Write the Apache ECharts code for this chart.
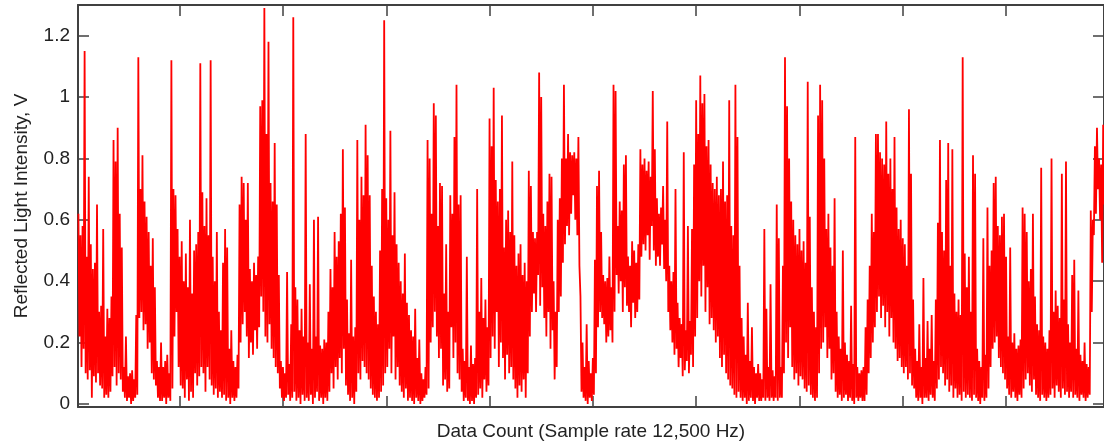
<!DOCTYPE html>
<html>
<head>
<meta charset="utf-8">
<script src="https://cdn.jsdelivr.net/npm/echarts@6/dist/echarts.min.js"></script>
<style>
  html, body { margin: 0; padding: 0; background: #fff; }
  #chart { width: 1104px; height: 446px; }
</style>
</head>
<body>
<div id="chart"></div>
<script>
// upper envelope (local peaks) and lower envelope (local troughs), read every ~20 samples
var peaks = [
  0.62, 0.55, 0.58, 1.15, 0.48, 0.74, 0.52, 0.44, 0.46, 0.65,
  0.30, 0.32, 0.57, 0.22, 0.31, 0.28, 0.35, 0.86, 0.79, 0.90,
  0.62, 0.51, 0.12, 0.22, 0.09, 0.10, 0.11, 0.08, 0.29, 1.13,
  0.70, 0.81, 0.66, 0.61, 0.56, 0.45, 0.54, 0.38, 0.14, 0.12,
  0.20, 0.12, 0.14, 0.16, 0.10, 1.12, 0.70, 0.68, 0.57, 0.48,
  0.53, 0.40, 0.49, 0.38, 0.60, 0.36, 0.50, 0.52, 0.56, 1.11,
  0.69, 0.58, 0.67, 0.55, 1.12, 0.48, 0.40, 0.56, 0.30, 0.24,
  0.46, 0.57, 0.51, 0.18, 0.24, 0.14, 0.12, 0.16, 0.65, 0.74,
  0.72, 0.60, 0.72, 0.44, 0.40, 0.46, 0.42, 0.48, 0.97, 0.99,
  1.29, 0.88, 1.18, 0.72, 0.66, 0.85, 0.65, 0.42, 0.14, 0.12,
  0.10, 0.43, 0.13, 0.26, 1.26, 0.38, 0.34, 0.24, 0.31, 0.22,
  0.88, 0.20, 0.39, 0.18, 0.60, 0.22, 0.61, 0.19, 0.18, 0.21,
  0.20, 0.30, 0.44, 0.38, 0.56, 0.48, 0.53, 0.62, 0.83, 0.64,
  0.34, 0.23, 0.47, 0.22, 0.25, 0.86, 0.60, 0.74, 0.68, 0.91,
  0.81, 0.68, 0.45, 0.35, 0.30, 0.26, 0.50, 0.70, 1.25, 0.67,
  0.60, 0.89, 0.55, 0.69, 0.52, 0.46, 0.40, 0.36, 0.49, 0.33,
  0.29, 0.24, 0.22, 0.31, 0.15, 0.21, 0.10, 0.08, 0.12, 0.86,
  0.80, 0.62, 0.98, 0.94, 0.58, 0.72, 0.71, 0.36, 0.52, 0.30,
  0.68, 0.62, 0.87, 1.04, 0.65, 0.68, 0.18, 0.14, 0.48, 0.12,
  0.19, 0.13, 0.15, 0.70, 0.30, 0.41, 0.28, 0.34, 0.25, 0.93,
  0.84, 1.03, 0.73, 0.66, 0.70, 0.94, 0.51, 0.60, 0.63, 0.56,
  0.79, 0.55, 0.45, 0.49, 0.52, 0.42, 0.46, 0.40, 0.76, 0.71,
  0.56, 0.54, 0.56, 1.08, 1.00, 0.62, 0.58, 0.66, 0.75, 0.74,
  0.40, 0.30, 0.60, 0.67, 0.80, 1.04, 0.80, 0.88, 0.82, 0.81,
  0.82, 0.80, 0.87, 0.35, 0.20, 0.12, 0.26, 0.14, 0.10, 0.15,
  0.47, 0.71, 0.76, 0.56, 0.42, 0.40, 0.41, 0.48, 0.38, 1.04,
  1.02, 0.58, 0.66, 0.63, 0.78, 0.81, 0.48, 0.45, 0.53, 0.50,
  0.46, 0.52, 0.83, 0.78, 0.80, 0.76, 0.79, 0.74, 1.02, 0.83,
  0.67, 0.62, 0.64, 0.71, 0.60, 0.92, 0.45, 0.40, 0.43, 0.70,
  0.33, 0.28, 0.26, 0.82, 0.24, 0.58, 0.27, 0.57, 0.78, 0.99,
  0.88, 1.07, 0.98, 1.01, 0.84, 0.86, 0.78, 0.72, 0.70, 0.74,
  0.68, 0.70, 0.79, 0.66, 0.68, 0.99, 0.58, 0.55, 1.04, 0.87,
  0.45, 0.28, 0.22, 0.16, 0.33, 0.14, 0.25, 0.12, 0.10, 0.13,
  0.10, 0.08, 0.57, 0.31, 0.12, 0.39, 0.11, 0.09, 0.65, 0.54,
  0.12, 0.45, 1.13, 0.97, 0.80, 0.66, 0.60, 0.55, 0.52, 0.57,
  0.50, 0.53, 0.46, 1.05, 0.61, 0.38, 0.30, 0.25, 0.94, 1.04,
  0.99, 0.80, 0.57, 0.62, 0.51, 0.45, 0.67, 0.30, 0.22, 0.18,
  0.50, 0.20, 0.16, 0.14, 0.32, 0.13, 0.87, 0.12, 0.10, 0.11,
  0.12, 0.25, 0.34, 0.45, 0.62, 0.56, 0.88, 0.88, 0.82, 0.80,
  0.78, 0.92, 0.75, 0.80, 0.70, 0.87, 0.64, 0.57, 0.60, 0.54,
  0.52, 0.45, 0.96, 0.75, 0.34, 0.18, 0.14, 0.26, 0.12, 0.41,
  0.15, 0.27, 0.18, 0.29, 0.14, 0.34, 0.59, 0.86, 0.56, 0.50,
  0.73, 0.85, 0.45, 0.83, 0.36, 0.30, 0.34, 0.29, 1.13, 0.49,
  0.38, 0.48, 0.30, 0.81, 0.75, 0.18, 0.14, 0.12, 0.54, 0.16,
  0.64, 0.45, 0.50, 0.72, 0.74, 0.58, 0.55, 0.61, 0.62, 0.48,
  0.22, 0.51, 0.20, 0.23, 0.18, 0.19, 0.21, 0.64, 0.62, 0.56,
  0.40, 0.44, 0.62, 0.35, 0.26, 0.24, 0.77, 0.22, 0.20, 0.18,
  0.24, 0.80, 0.30, 0.37, 0.32, 0.28, 0.75, 0.34, 0.79, 0.26,
  0.20, 0.42, 0.47, 0.18, 0.37, 0.16, 0.14, 0.20, 0.13, 0.12,
  0.63, 0.60, 0.84, 0.90, 0.80, 0.78, 0.91
];
var troughs = [
  0.22, 0.12, 0.18, 0.10, 0.08, 0.11, 0.02, 0.09, 0.07, 0.10,
  0.06, 0.05, 0.02, 0.03, 0.02, 0.04, 0.09, 0.12, 0.06, 0.10,
  0.08, 0.04, 0.02, 0.01, 0.02, 0.00, 0.01, 0.02, 0.03, 0.28,
  0.30, 0.24, 0.26, 0.18, 0.20, 0.10, 0.08, 0.06, 0.02, 0.01,
  0.01, 0.02, 0.00, 0.02, 0.01, 0.05, 0.22, 0.30, 0.12, 0.06,
  0.05, 0.02, 0.08, 0.01, 0.04, 0.02, 0.10, 0.06, 0.09, 0.12,
  0.10, 0.04, 0.12, 0.08, 0.06, 0.03, 0.05, 0.02, 0.04, 0.02,
  0.03, 0.01, 0.02, 0.00, 0.02, 0.01, 0.02, 0.05, 0.20, 0.26,
  0.30, 0.22, 0.15, 0.20, 0.16, 0.24, 0.18, 0.25, 0.35, 0.30,
  0.22, 0.20, 0.26, 0.18, 0.15, 0.12, 0.10, 0.05, 0.02, 0.01,
  0.02, 0.03, 0.01, 0.02, 0.04, 0.01, 0.02, 0.00, 0.03, 0.01,
  0.02, 0.01, 0.03, 0.00, 0.02, 0.04, 0.01, 0.02, 0.00, 0.02,
  0.01, 0.04, 0.10, 0.05, 0.12, 0.08, 0.15, 0.10, 0.18, 0.06,
  0.03, 0.01, 0.02, 0.00, 0.04, 0.10, 0.08, 0.14, 0.12, 0.10,
  0.08, 0.05, 0.03, 0.02, 0.01, 0.02, 0.04, 0.06, 0.10, 0.12,
  0.18, 0.10, 0.22, 0.08, 0.12, 0.06, 0.04, 0.02, 0.05, 0.01,
  0.02, 0.01, 0.00, 0.02, 0.01, 0.00, 0.01, 0.02, 0.03, 0.05,
  0.20, 0.25, 0.30, 0.22, 0.15, 0.18, 0.06, 0.08, 0.04, 0.05,
  0.25, 0.15, 0.20, 0.10, 0.08, 0.04, 0.01, 0.02, 0.01, 0.00,
  0.01, 0.00, 0.02, 0.03, 0.05, 0.02, 0.08, 0.04, 0.06, 0.15,
  0.22, 0.18, 0.30, 0.12, 0.20, 0.15, 0.08, 0.16, 0.10, 0.12,
  0.08, 0.05, 0.02, 0.06, 0.04, 0.08, 0.02, 0.10, 0.22, 0.30,
  0.36, 0.30, 0.42, 0.32, 0.38, 0.28, 0.22, 0.30, 0.18, 0.24,
  0.08, 0.12, 0.30, 0.35, 0.46, 0.52, 0.58, 0.55, 0.62, 0.68,
  0.60, 0.55, 0.45, 0.04, 0.02, 0.01, 0.00, 0.02, 0.01, 0.03,
  0.10, 0.25, 0.30, 0.28, 0.26, 0.20, 0.22, 0.24, 0.20, 0.30,
  0.42, 0.36, 0.40, 0.30, 0.38, 0.32, 0.30, 0.25, 0.33, 0.28,
  0.30, 0.34, 0.48, 0.52, 0.50, 0.55, 0.47, 0.58, 0.50, 0.45,
  0.48, 0.45, 0.52, 0.44, 0.40, 0.30, 0.24, 0.20, 0.16, 0.18,
  0.12, 0.15, 0.09, 0.11, 0.14, 0.10, 0.16, 0.12, 0.22, 0.28,
  0.40, 0.35, 0.45, 0.30, 0.38, 0.26, 0.28, 0.24, 0.20, 0.22,
  0.15, 0.12, 0.16, 0.10, 0.08, 0.06, 0.05, 0.03, 0.02, 0.04,
  0.02, 0.01, 0.02, 0.00, 0.01, 0.02, 0.01, 0.00, 0.02, 0.01,
  0.01, 0.02, 0.01, 0.02, 0.01, 0.02, 0.01, 0.02, 0.01, 0.02,
  0.02, 0.10, 0.20, 0.15, 0.25, 0.12, 0.08, 0.10, 0.06, 0.09,
  0.08, 0.05, 0.04, 0.06, 0.03, 0.02, 0.01, 0.02, 0.10, 0.18,
  0.20, 0.25, 0.15, 0.18, 0.08, 0.10, 0.04, 0.02, 0.03, 0.01,
  0.02, 0.03, 0.01, 0.02, 0.01, 0.00, 0.02, 0.01, 0.02, 0.01,
  0.01, 0.03, 0.10, 0.15, 0.20, 0.25, 0.30, 0.35, 0.28, 0.32,
  0.25, 0.30, 0.22, 0.28, 0.20, 0.18, 0.14, 0.15, 0.12, 0.10,
  0.12, 0.08, 0.10, 0.06, 0.05, 0.02, 0.01, 0.02, 0.00, 0.02,
  0.02, 0.01, 0.03, 0.02, 0.01, 0.05, 0.08, 0.12, 0.10, 0.06,
  0.08, 0.04, 0.06, 0.02, 0.05, 0.02, 0.03, 0.01, 0.04, 0.02,
  0.03, 0.02, 0.01, 0.03, 0.02, 0.01, 0.00, 0.02, 0.01, 0.02,
  0.05, 0.12, 0.18, 0.20, 0.22, 0.15, 0.12, 0.10, 0.08, 0.05,
  0.03, 0.02, 0.04, 0.02, 0.01, 0.03, 0.02, 0.05, 0.08, 0.10,
  0.06, 0.04, 0.08, 0.03, 0.02, 0.01, 0.03, 0.02, 0.01, 0.02,
  0.03, 0.05, 0.02, 0.06, 0.04, 0.02, 0.05, 0.03, 0.04, 0.02,
  0.04, 0.02, 0.03, 0.02, 0.01, 0.03, 0.02, 0.01, 0.02, 0.03,
  0.30, 0.55, 0.62, 0.70, 0.60, 0.46, 0.65
];
var xTicks = [1000, 2000, 3000, 4000, 5000, 6000, 7000, 8000, 9000];
var yTicks = [0, 0.2, 0.4, 0.6, 0.8, 1, 1.2];

var signal = [];
for (var i = 0; i < peaks.length; i++) {
  signal.push([20 + 20 * i, peaks[i]]);
  signal.push([30 + 20 * i, troughs[i]]);
}

var chart = echarts.init(document.getElementById('chart'), null, { renderer: 'canvas' });

var frame = { show: true, onZero: false, lineStyle: { color: '#404040', width: 2 } };
var tick = { show: true, inside: true, length: 11, lineStyle: { color: '#404040', width: 1.5 } };
var font = { fontFamily: 'Liberation Sans, Arial, sans-serif', fontSize: 19, color: '#222' };

var option = {
  animation: false,
  backgroundColor: '#fff',
  grid: { left: 78, top: 5, width: 1026, height: 403 },
  xAxis: [{
    type: 'value', min: 16, max: 9948, position: 'bottom',
    name: 'Data Count (Sample rate 12,500 Hz)', nameLocation: 'middle', nameGap: 15,
    nameTextStyle: font,
    axisLine: frame,
    axisTick: Object.assign({ customValues: xTicks }, tick),
    axisLabel: { show: false },
    splitLine: { show: false }
  }, {
    type: 'value', min: 16, max: 9948, position: 'top',
    axisLine: frame,
    axisTick: Object.assign({ customValues: xTicks }, tick),
    axisLabel: { show: false },
    splitLine: { show: false }
  }],
  yAxis: [{
    type: 'value', min: -0.01, max: 1.3, position: 'left',
    name: 'Reflected Light Intensity, V', nameLocation: 'middle', nameGap: 47,
    nameTextStyle: font,
    axisLine: frame,
    axisTick: Object.assign({ customValues: yTicks }, tick),
    axisLabel: Object.assign({ customValues: yTicks, margin: 8 }, font),
    splitLine: { show: false }
  }, {
    type: 'value', min: -0.01, max: 1.3, position: 'right',
    axisLine: frame,
    axisTick: Object.assign({ customValues: yTicks }, tick),
    axisLabel: { show: false },
    splitLine: { show: false }
  }],
  series: [{
    type: 'line',
    data: signal,
    showSymbol: false,
    symbol: 'none',
    lineStyle: { color: '#ff0000', width: 1.8 },
    clip: true
  }]
};

chart.setOption(option);
</script>
</body>
</html>
